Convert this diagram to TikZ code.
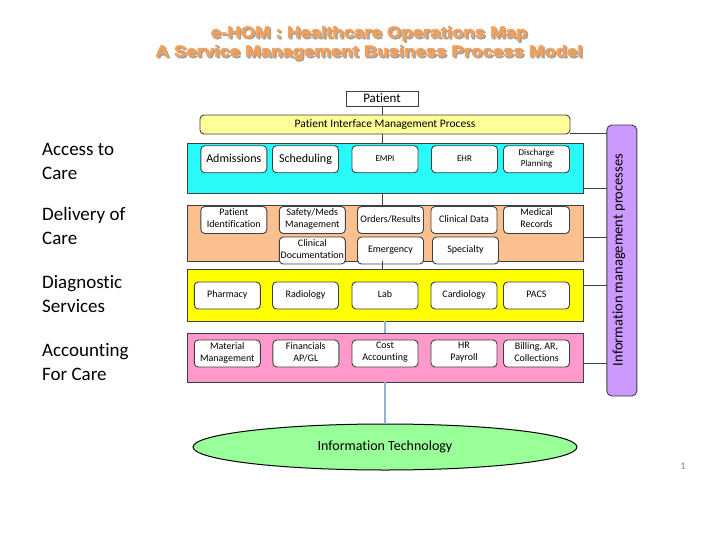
\documentclass[tikz,border=0pt]{standalone}
\usepackage{fontspec}
\setmainfont{Carlito}[Ligatures=NoCommon]
\newfontfamily\titlefont[BoldFeatures={FakeBold=3}]{Liberation Sans}
\usetikzlibrary{shapes.geometric}
\definecolor{cyanfill}{RGB}{40,250,250}
\definecolor{orangefill}{RGB}{250,192,144}
\definecolor{yellowfill}{RGB}{255,255,0}
\definecolor{pinkfill}{RGB}{255,153,204}
\definecolor{purplefill}{RGB}{204,153,255}
\definecolor{barfill}{RGB}{255,255,153}
\definecolor{greenfill}{RGB}{153,255,153}
\definecolor{titleorange}{RGB}{242,160,90}
\definecolor{shadowgray}{RGB}{160,160,160}
\definecolor{linkblue}{RGB}{149,179,215}
\definecolor{edgegray}{RGB}{64,64,64}
\tikzset{
  layer/.style={draw=edgegray, line width=1pt, inner sep=0pt, outer sep=0pt, minimum width=396pt},
  item/.style={draw=edgegray, line width=0.9pt, fill=white, rounded corners=4pt, inner sep=0pt, outer sep=0pt,
    minimum width=66pt, minimum height=27pt, align=center, font=\fontsize{10}{12}\selectfont,
    execute at begin node={\strut}, execute at end node={\strut}},
  bigitem/.style={item, font=\fontsize{12}{14}\selectfont},
  smallitem/.style={item, font=\fontsize{9}{11}\selectfont},
  conn/.style={draw=edgegray, line width=0.8pt},
  blueconn/.style={draw=linkblue, line width=1.2pt},
  sidelabel/.style={anchor=north west, align=left, inner sep=0pt, font=\fontsize{19}{24}\selectfont},
  titletext/.style={align=center, inner sep=0pt, font=\titlefont\bfseries\fontsize{16}{19}\selectfont}
}
\begin{document}
\begin{tikzpicture}[x=1pt,y=-1pt]
\useasboundingbox (0,0) rectangle (728,546);

% title with shadow
\node[titletext, text=shadowgray] (titleshadow) at (370.5,44.5) {\scalebox{1.16}[1]{e-HOM : Healthcare Operations Map}\\\scalebox{1.16}[1]{A Service Management Business Process Model}};
\node[titletext, text=titleorange] (title) at (369,43) {\scalebox{1.16}[1]{e-HOM : Healthcare Operations Map}\\\scalebox{1.16}[1]{A Service Management Business Process Model}};

% side labels
\node[sidelabel] (lab1) at (42,143.5) {Access to\\Care};
\node[sidelabel] (lab2) at (42,207.5) {Delivery of\\Care};
\node[sidelabel] (lab3) at (42,275.5) {Diagnostic\\Services};
\node[sidelabel] (lab4) at (42,343.5) {Accounting\\For Care};

% patient and interface bar
\node[draw=edgegray, line width=0.9pt, fill=white, minimum width=72pt, minimum height=15pt, inner sep=0pt, outer sep=0pt,
  font=\fontsize{13}{15}\selectfont] (patient) at (382,98.5) {Patient};
\node[draw=edgegray, line width=0.9pt, fill=barfill, rounded corners=4pt, minimum width=370pt, minimum height=19pt,
  inner sep=0pt, outer sep=0pt, font=\fontsize{11.5}{13}\selectfont] (pibar) at (385,124.5) {Patient Interface Management Process};

% layers
\node[layer, fill=cyanfill, minimum height=50pt] (access) at (385,168) {};
\node[layer, fill=orangefill, minimum height=56pt] (delivery) at (385,233) {};
\node[layer, fill=yellowfill, minimum height=52pt] (diag) at (385,295) {};
\node[layer, fill=pinkfill, minimum height=49pt] (acct) at (385,357.5) {};

% information management processes
\node[draw=edgegray, line width=0.9pt, fill=purplefill, rounded corners=5pt, minimum width=30pt, minimum height=271pt,
  inner sep=0pt, outer sep=0pt] (imp) at (621.8,260.5) {};
\node[rotate=90, inner sep=0pt, font=\fontsize{14.5}{16}\selectfont] (implabel) at (619,260) {Information management processes};

% access to care items
\node[bigitem] (admissions) at (233.8,159.2) {Admissions};
\node[bigitem] (scheduling) at (305.5,159.2) {Scheduling};
\node[smallitem] (empi) at (385,159.2) {EMPI};
\node[smallitem] (ehr) at (464.5,159.2) {EHR};
\node[smallitem] (discharge) at (536.5,159.2) {Discharge\\Planning};

% delivery of care items
\node[item] (patid) at (233.8,220) {Patient\\Identification};
\node[item] (safety) at (312.3,220) {Safety/Meds\\Management};
\node[item] (orders) at (390.5,220) {Orders/Results};
\node[item] (clindata) at (464,220) {Clinical Data};
\node[item] (medrec) at (536.5,220) {Medical\\Records};
\node[item] (clindoc) at (312.3,250.5) {Clinical\\Documentation};
\node[item] (emergency) at (390.5,250.5) {Emergency};
\node[item] (specialty) at (465.5,250.5) {Specialty};

% diagnostic services items
\node[item] (pharmacy) at (227.3,295.5) {Pharmacy};
\node[item] (radiology) at (305.5,295.5) {Radiology};
\node[item] (lab) at (385,295.5) {Lab};
\node[item] (cardiology) at (464,295.5) {Cardiology};
\node[item] (pacs) at (536.5,295.5) {PACS};

% accounting items
\node[item] (material) at (227.3,353.5) {Material\\Management};
\node[item] (financials) at (305.8,353.5) {Financials\\AP/GL};
\node[item] (cost) at (385,353.5) {Cost\\Accounting};
\node[item] (hr) at (464,353.5) {HR\\Payroll};
\node[item] (billing) at (536.5,353.5) {Billing, AR,\\Collections};

% information technology
\node[ellipse, draw=black, line width=1pt, fill=greenfill, minimum width=384pt, minimum height=46pt, inner sep=0pt,
  outer sep=0pt, font=\fontsize{14}{16}\selectfont] (it) at (385,447) {Information Technology};

% vertical connectors
\draw[conn] (patient.south) -- (patient.south |- pibar.north);
\draw[conn] (pibar.south -| patient.south) -- (access.north -| patient.south);
\draw[conn] (access.south -| patient.south) -- (delivery.north -| patient.south);
\draw[conn] (delivery.south -| patient.south) -- (diag.north -| patient.south);
\draw[blueconn] (diag.south) -- (acct.north);
\draw[blueconn] (acct.south) -- (it.north);

% side connectors to information management processes
\coordinate (ya) at (0,133);
\coordinate (yb) at (0,188);
\coordinate (yc) at (0,237);
\coordinate (yd) at (0,285);
\coordinate (ye) at (0,363);
\draw[conn] (pibar.east |- ya) -- (imp.west |- ya);
\draw[conn] (access.east |- yb) -- (imp.west |- yb);
\draw[conn] (delivery.east |- yc) -- (imp.west |- yc);
\draw[conn] (diag.east |- yd) -- (imp.west |- yd);
\draw[conn] (acct.east |- ye) -- (imp.west |- ye);

% page number
\node[text=gray, font=\fontsize{10}{12}\selectfont] (pagenum) at (683,466) {1};
\end{tikzpicture}
\end{document}
